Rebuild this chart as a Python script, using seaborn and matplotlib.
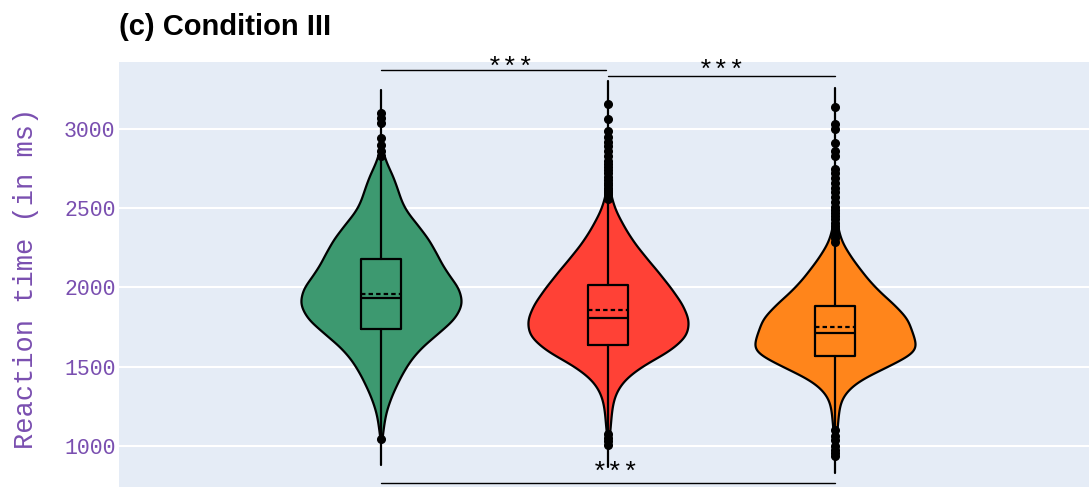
import numpy as np
import pandas as pd
import matplotlib
matplotlib.use("Agg")
import matplotlib.pyplot as plt
import seaborn as sns

# ---- data -------------------------------------------------------------
groups = ["Group A", "Group B", "Group C"]
colors = ["#3D9970", "#FF4136", "#FF851B"]

# reaction-time bins (ms) and how many trials fall in each bin
rt_bins_a = [1100, 1200, 1300, 1400, 1500, 1600, 1700, 1800, 1900,
             2000, 2100, 2200, 2300, 2400, 2500, 2600, 2700, 2800]
counts_a = [2, 4, 9, 16, 24, 35, 53, 72, 80, 76, 63, 55, 47, 35, 22, 17, 12, 4]

rt_bins_b = [1100, 1200, 1300, 1400, 1500, 1600, 1700, 1800,
             1900, 2000, 2100, 2200, 2300, 2400, 2500, 2600]
counts_b = [2, 3, 5, 12, 30, 60, 77, 78, 71, 60, 48, 35, 23, 14, 6, 2]

rt_bins_c = [1100, 1200, 1300, 1400, 1500, 1600, 1700,
             1800, 1900, 2000, 2100, 2200, 2300, 2400]
counts_c = [2, 3, 5, 17, 48, 80, 72, 69, 54, 37, 25, 14, 5, 2]

# summary statistics per group (ms)
q1 = [1740, 1636, 1567]
median = [1935, 1806, 1714]
mean = [1960, 1855, 1752]
q3 = [2177, 2013, 1882]
rt_min = [877, 870, 831]
rt_max = [3249, 3301, 3259]

outliers_a = [3102, 3071, 3040, 2944, 2902, 2860, 2830, 1042]
outliers_b = [3159, 3064, 2990, 2950, 2920, 2890, 2860, 2830, 2800, 2780,
              2760, 2740, 2720, 2700, 2680, 2660, 2645, 2630, 2615, 2600,
              2590, 2580, 2570, 2560, 1075, 1050, 1030, 1005]
outliers_c = [3139, 3030, 3000, 2913, 2860, 2830, 2750, 2720, 2690, 2660,
              2630, 2600, 2570, 2540, 2510, 2490, 2470, 2450, 2430, 2410,
              2390, 2370, 2350, 2330, 2310, 2290, 1100, 1062, 1040, 1000,
              975, 955, 935]

# pairwise significance brackets: (left group, right group, height in ms, label)
brackets = [(0, 0.99, 3372, "***"), (1, 2, 3334, "***"), (0, 2, 767, "***")]
bracket_label_x = [0.57, 1.50, 1.035]
bracket_label_y = [3345, 3325, 785]

yticks = [1000, 1500, 2000, 2500, 3000]

# ---- figure -------------------------------------------------------------
PURPLE = "#7a4fb0"
BG = "#E5ECF6"
MONO = ["Liberation Mono", "DejaVu Sans Mono"]

sns.set_style("white")
plt.rcParams["font.family"] = ["Liberation Sans", "DejaVu Sans"]

W, H = 1089, 487
fig = plt.figure(figsize=(W / 100, H / 100), dpi=100)
ax = fig.add_axes([119 / W, 0, 1 - 119 / W, 1 - 62 / H])
ax.set_facecolor(BG)

frames = []
for g, bins, cnt in zip(groups, [rt_bins_a, rt_bins_b, rt_bins_c],
                        [counts_a, counts_b, counts_c]):
    frames.append(pd.DataFrame({"group": g, "rt": np.repeat(bins, cnt)}))
df = pd.concat(frames, ignore_index=True)

# kernel width of about 65 ms for every group
sns.violinplot(
    data=df, x="group", y="rt", hue="group", order=groups, hue_order=groups,
    palette=colors, saturation=1, inner=None, cut=0.6, density_norm="width",
    width=0.705, linewidth=1.6, linecolor="black", legend=False,
    gridsize=200,
    bw_method=lambda k: 65.0 / np.std(k.dataset, ddof=1), ax=ax, zorder=2,
)

stats = []
for i, fl in enumerate([outliers_a, outliers_b, outliers_c]):
    stats.append(dict(med=median[i], q1=q1[i], q3=q3[i], mean=mean[i],
                      whislo=rt_min[i], whishi=rt_max[i], fliers=fl))

ax.bxp(
    stats, positions=[0, 1, 2], widths=0.18, showmeans=True, meanline=True,
    showcaps=False, showfliers=True, manage_ticks=False,
    boxprops=dict(color="black", linewidth=1.6),
    whiskerprops=dict(color="black", linewidth=1.6),
    medianprops=dict(color="black", linewidth=1.6),
    meanprops=dict(color="black", linewidth=1.6, linestyle=(0, (2, 1.4))),
    flierprops=dict(marker="o", markerfacecolor="black",
                    markeredgecolor="black", markersize=5.5, linestyle="none"),
    zorder=3,
)

for (a, b, yv, lab), tx, ty in zip(brackets, bracket_label_x, bracket_label_y):
    ax.plot([a, b], [yv, yv], color="black", lw=1.0, clip_on=False, zorder=4)
    ax.text(tx, ty, lab, ha="center", va="baseline", fontsize=19,
            family=MONO, color="black", clip_on=False, zorder=4)

ax.set_xlim(-1.154, 3.119)
ax.set_ylim(741, 3423)
ax.set_yticks(yticks)
ax.set_xticks([])
ax.set_xlabel("")
ax.set_ylabel("")
ax.grid(axis="y", color="white", linewidth=1.5, zorder=0)
ax.set_axisbelow(True)
for s in ax.spines.values():
    s.set_visible(False)
ax.tick_params(axis="y", length=0, pad=2.5, labelsize=15.5,
               labelcolor=PURPLE)
for t in ax.get_yticklabels():
    t.set_family(MONO)

fig.text(26 / W, 1 - 278.5 / H, "Reaction time (in ms)", rotation=90,
         ha="center", va="center", fontsize=19.5, color=PURPLE, family=MONO)
fig.text(119 / W, 1 - 35 / H, "(c) Condition III", ha="left",
         va="baseline", fontsize=21, fontweight="bold", color="black")

fig.savefig("out.png", dpi=100, facecolor="white")
